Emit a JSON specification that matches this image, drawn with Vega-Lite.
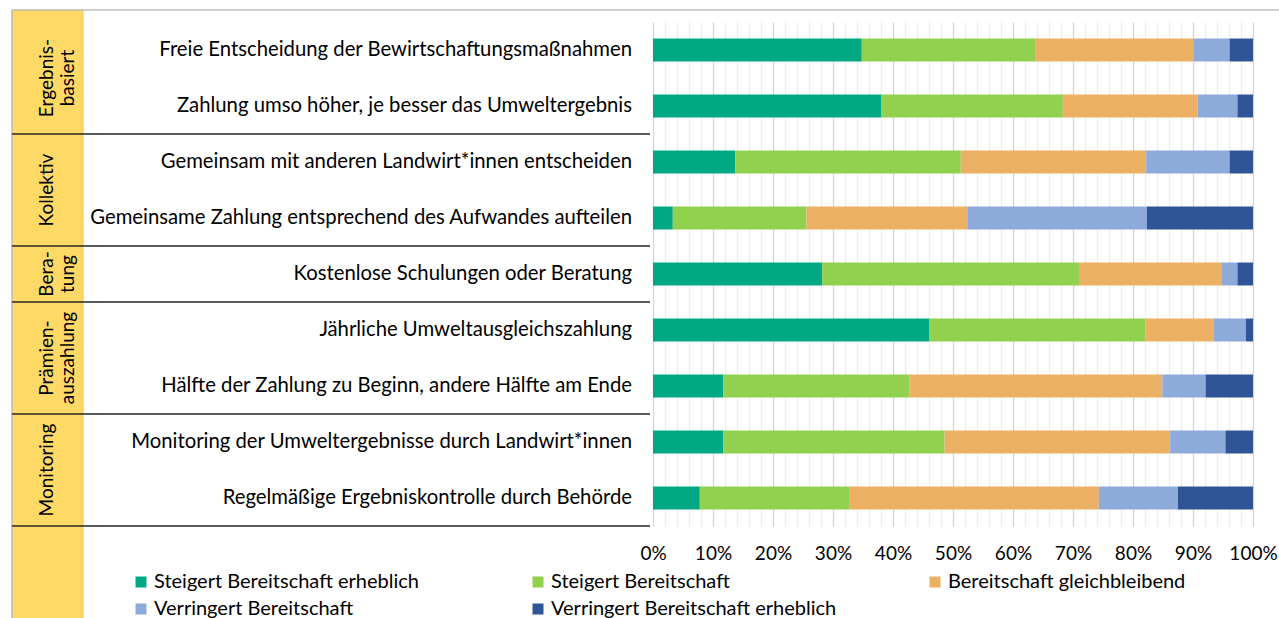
{
  "$schema": "https://vega.github.io/schema/vega-lite/v6.json",
  "width": 1267,
  "height": 504,
  "autosize": {"type": "none"},
  "padding": {"left": 12, "top": 22, "right": 0, "bottom": 92},
  "background": "white",
  "config": {"view": {"stroke": null}, "font": "Lato"},
  "datasets": {
    "items": [
      {"row": 1, "item": "Freie Entscheidung der Bewirtschaftungsmaßnahmen", "group": "Ergebnis-\nbasiert"},
      {"row": 2, "item": "Zahlung umso höher, je besser das Umweltergebnis", "group": "Ergebnis-\nbasiert"},
      {"row": 3, "item": "Gemeinsam mit anderen Landwirt*innen entscheiden", "group": "Kollektiv"},
      {"row": 4, "item": "Gemeinsame Zahlung entsprechend des Aufwandes aufteilen", "group": "Kollektiv"},
      {"row": 5, "item": "Kostenlose Schulungen oder Beratung", "group": "Bera-\ntung"},
      {"row": 6, "item": "Jährliche Umweltausgleichszahlung", "group": "Prämien-\nauszahlung"},
      {"row": 7, "item": "Hälfte der Zahlung zu Beginn, andere Hälfte am Ende", "group": "Prämien-\nauszahlung"},
      {"row": 8, "item": "Monitoring der Umweltergebnisse durch Landwirt*innen", "group": "Monitoring"},
      {"row": 9, "item": "Regelmäßige Ergebniskontrolle durch Behörde", "group": "Monitoring"}
    ],
    "shares": [
      {"row": 1, "k": 1, "cat": "Steigert Bereitschaft erheblich", "v": 34.8},
      {"row": 1, "k": 2, "cat": "Steigert Bereitschaft", "v": 29.0},
      {"row": 1, "k": 3, "cat": "Bereitschaft gleichbleibend", "v": 26.3},
      {"row": 1, "k": 4, "cat": "Verringert Bereitschaft", "v": 6.0},
      {"row": 1, "k": 5, "cat": "Verringert Bereitschaft erheblich", "v": 3.9},
      {"row": 2, "k": 1, "cat": "Steigert Bereitschaft erheblich", "v": 38.0},
      {"row": 2, "k": 2, "cat": "Steigert Bereitschaft", "v": 30.3},
      {"row": 2, "k": 3, "cat": "Bereitschaft gleichbleibend", "v": 22.5},
      {"row": 2, "k": 4, "cat": "Verringert Bereitschaft", "v": 6.6},
      {"row": 2, "k": 5, "cat": "Verringert Bereitschaft erheblich", "v": 2.6},
      {"row": 3, "k": 1, "cat": "Steigert Bereitschaft erheblich", "v": 13.7},
      {"row": 3, "k": 2, "cat": "Steigert Bereitschaft", "v": 37.6},
      {"row": 3, "k": 3, "cat": "Bereitschaft gleichbleibend", "v": 30.9},
      {"row": 3, "k": 4, "cat": "Verringert Bereitschaft", "v": 13.9},
      {"row": 3, "k": 5, "cat": "Verringert Bereitschaft erheblich", "v": 3.9},
      {"row": 4, "k": 1, "cat": "Steigert Bereitschaft erheblich", "v": 3.3},
      {"row": 4, "k": 2, "cat": "Steigert Bereitschaft", "v": 22.3},
      {"row": 4, "k": 3, "cat": "Bereitschaft gleichbleibend", "v": 26.9},
      {"row": 4, "k": 4, "cat": "Verringert Bereitschaft", "v": 29.8},
      {"row": 4, "k": 5, "cat": "Verringert Bereitschaft erheblich", "v": 17.7},
      {"row": 5, "k": 1, "cat": "Steigert Bereitschaft erheblich", "v": 28.2},
      {"row": 5, "k": 2, "cat": "Steigert Bereitschaft", "v": 42.8},
      {"row": 5, "k": 3, "cat": "Bereitschaft gleichbleibend", "v": 23.7},
      {"row": 5, "k": 4, "cat": "Verringert Bereitschaft", "v": 2.7},
      {"row": 5, "k": 5, "cat": "Verringert Bereitschaft erheblich", "v": 2.6},
      {"row": 6, "k": 1, "cat": "Steigert Bereitschaft erheblich", "v": 46.0},
      {"row": 6, "k": 2, "cat": "Steigert Bereitschaft", "v": 36.1},
      {"row": 6, "k": 3, "cat": "Bereitschaft gleichbleibend", "v": 11.3},
      {"row": 6, "k": 4, "cat": "Verringert Bereitschaft", "v": 5.4},
      {"row": 6, "k": 5, "cat": "Verringert Bereitschaft erheblich", "v": 1.2},
      {"row": 7, "k": 1, "cat": "Steigert Bereitschaft erheblich", "v": 11.7},
      {"row": 7, "k": 2, "cat": "Steigert Bereitschaft", "v": 31.0},
      {"row": 7, "k": 3, "cat": "Bereitschaft gleichbleibend", "v": 42.2},
      {"row": 7, "k": 4, "cat": "Verringert Bereitschaft", "v": 7.2},
      {"row": 7, "k": 5, "cat": "Verringert Bereitschaft erheblich", "v": 7.9},
      {"row": 8, "k": 1, "cat": "Steigert Bereitschaft erheblich", "v": 11.7},
      {"row": 8, "k": 2, "cat": "Steigert Bereitschaft", "v": 36.9},
      {"row": 8, "k": 3, "cat": "Bereitschaft gleichbleibend", "v": 37.6},
      {"row": 8, "k": 4, "cat": "Verringert Bereitschaft", "v": 9.2},
      {"row": 8, "k": 5, "cat": "Verringert Bereitschaft erheblich", "v": 4.6},
      {"row": 9, "k": 1, "cat": "Steigert Bereitschaft erheblich", "v": 7.8},
      {"row": 9, "k": 2, "cat": "Steigert Bereitschaft", "v": 25.0},
      {"row": 9, "k": 3, "cat": "Bereitschaft gleichbleibend", "v": 41.5},
      {"row": 9, "k": 4, "cat": "Verringert Bereitschaft", "v": 13.2},
      {"row": 9, "k": 5, "cat": "Verringert Bereitschaft erheblich", "v": 12.5}
    ]
  },
  "layer": [
    {
      "data": {"values": [{}]},
      "mark": {"type": "rect", "fill": "#FFD966", "stroke": "#F2C14E", "strokeWidth": 1},
      "encoding": {
        "x": {"datum": -106.83, "type": "quantitative", "scale": {"domain": [-106.8333, 104.3333], "nice": false, "zero": false, "padding": 0}, "axis": {"values": [0,2,4,6,8,10,12,14,16,18,20,22,24,26,28,30,32,34,36,38,40,42,44,46,48,50,52,54,56,58,60,62,64,66,68,70,72,74,76,78,80,82,84,86,88,90,92,94,96,98,100], "labelExpr": "datum.value % 10 === 0 ? datum.value + '%' : ''", "grid": true, "gridColor": {"condition": {"test": "datum.value % 10 === 0", "value": "#D4D4D4"}, "value": "#EDEDED"}, "gridWidth": 1.3, "domain": false, "ticks": false, "labelFontSize": 19, "labelFont": "Lato", "labelColor": "#000000", "labelPadding": 18, "labelOverlap": false, "labelFlush": false, "title": null}},
        "x2": {"datum": -95},
        "y": {"datum": 0.2857, "type": "quantitative", "scale": {"domain": [0.5, 9.5], "reverse": true, "nice": false, "zero": false, "padding": 0}, "axis": null},
        "y2": {"datum": 11.2}
      }
    },
    {
      "data": {"values": [{}]},
      "mark": {"type": "rule", "color": "#BFBFBF", "strokeWidth": 1.5},
      "encoding": {
        "x": {"datum": -106.83, "type": "quantitative", "scale": {"domain": [-106.8333, 104.3333], "nice": false, "zero": false, "padding": 0}, "axis": {"values": [0,2,4,6,8,10,12,14,16,18,20,22,24,26,28,30,32,34,36,38,40,42,44,46,48,50,52,54,56,58,60,62,64,66,68,70,72,74,76,78,80,82,84,86,88,90,92,94,96,98,100], "labelExpr": "datum.value % 10 === 0 ? datum.value + '%' : ''", "grid": true, "gridColor": {"condition": {"test": "datum.value % 10 === 0", "value": "#D4D4D4"}, "value": "#EDEDED"}, "gridWidth": 1.3, "domain": false, "ticks": false, "labelFontSize": 19, "labelFont": "Lato", "labelColor": "#000000", "labelPadding": 18, "labelOverlap": false, "labelFlush": false, "title": null}},
        "x2": {"datum": 104.33},
        "y": {"datum": 0.2857, "type": "quantitative", "scale": {"domain": [0.5, 9.5], "reverse": true, "nice": false, "zero": false, "padding": 0}, "axis": null}
      }
    },
    {
      "data": {"values": [{}]},
      "mark": {"type": "rule", "color": "#BFBFBF", "strokeWidth": 1.5},
      "encoding": {
        "x": {"datum": -106.83, "type": "quantitative", "scale": {"domain": [-106.8333, 104.3333], "nice": false, "zero": false, "padding": 0}, "axis": {"values": [0,2,4,6,8,10,12,14,16,18,20,22,24,26,28,30,32,34,36,38,40,42,44,46,48,50,52,54,56,58,60,62,64,66,68,70,72,74,76,78,80,82,84,86,88,90,92,94,96,98,100], "labelExpr": "datum.value % 10 === 0 ? datum.value + '%' : ''", "grid": true, "gridColor": {"condition": {"test": "datum.value % 10 === 0", "value": "#D4D4D4"}, "value": "#EDEDED"}, "gridWidth": 1.3, "domain": false, "ticks": false, "labelFontSize": 19, "labelFont": "Lato", "labelColor": "#000000", "labelPadding": 18, "labelOverlap": false, "labelFlush": false, "title": null}},
        "y": {"datum": 0.2857, "type": "quantitative", "scale": {"domain": [0.5, 9.5], "reverse": true, "nice": false, "zero": false, "padding": 0}, "axis": null},
        "y2": {"datum": 11.2}
      }
    },
    {
      "data": {"name": "items"},
      "mark": {"type": "rule", "color": "#262626", "strokeWidth": 1.3, "yOffset": 28},
      "encoding": {
        "x": {"datum": -106.83, "type": "quantitative", "scale": {"domain": [-106.8333, 104.3333], "nice": false, "zero": false, "padding": 0}, "axis": {"values": [0,2,4,6,8,10,12,14,16,18,20,22,24,26,28,30,32,34,36,38,40,42,44,46,48,50,52,54,56,58,60,62,64,66,68,70,72,74,76,78,80,82,84,86,88,90,92,94,96,98,100], "labelExpr": "datum.value % 10 === 0 ? datum.value + '%' : ''", "grid": true, "gridColor": {"condition": {"test": "datum.value % 10 === 0", "value": "#D4D4D4"}, "value": "#EDEDED"}, "gridWidth": 1.3, "domain": false, "ticks": false, "labelFontSize": 19, "labelFont": "Lato", "labelColor": "#000000", "labelPadding": 18, "labelOverlap": false, "labelFlush": false, "title": null}},
        "x2": {"datum": -0.5},
        "y": {"aggregate": "max", "field": "row", "type": "quantitative", "scale": {"domain": [0.5, 9.5], "reverse": true, "nice": false, "zero": false, "padding": 0}, "axis": null},
        "detail": {"field": "group"}
      }
    },
    {
      "data": {"name": "items"},
      "mark": {"type": "text", "angle": 270, "align": "center", "baseline": "middle", "fontSize": 19, "lineHeight": 21, "lineBreak": "\n", "color": "#000000"},
      "encoding": {
        "x": {"datum": -101, "type": "quantitative", "scale": {"domain": [-106.8333, 104.3333], "nice": false, "zero": false, "padding": 0}, "axis": {"values": [0,2,4,6,8,10,12,14,16,18,20,22,24,26,28,30,32,34,36,38,40,42,44,46,48,50,52,54,56,58,60,62,64,66,68,70,72,74,76,78,80,82,84,86,88,90,92,94,96,98,100], "labelExpr": "datum.value % 10 === 0 ? datum.value + '%' : ''", "grid": true, "gridColor": {"condition": {"test": "datum.value % 10 === 0", "value": "#D4D4D4"}, "value": "#EDEDED"}, "gridWidth": 1.3, "domain": false, "ticks": false, "labelFontSize": 19, "labelFont": "Lato", "labelColor": "#000000", "labelPadding": 18, "labelOverlap": false, "labelFlush": false, "title": null}},
        "y": {"aggregate": "mean", "field": "row", "type": "quantitative", "scale": {"domain": [0.5, 9.5], "reverse": true, "nice": false, "zero": false, "padding": 0}, "axis": null},
        "text": {"field": "group"}
      }
    },
    {
      "data": {"name": "items"},
      "mark": {"type": "text", "align": "right", "baseline": "middle", "fontSize": 20.3, "color": "#000000"},
      "encoding": {
        "x": {"datum": -3.5, "type": "quantitative", "scale": {"domain": [-106.8333, 104.3333], "nice": false, "zero": false, "padding": 0}, "axis": {"values": [0,2,4,6,8,10,12,14,16,18,20,22,24,26,28,30,32,34,36,38,40,42,44,46,48,50,52,54,56,58,60,62,64,66,68,70,72,74,76,78,80,82,84,86,88,90,92,94,96,98,100], "labelExpr": "datum.value % 10 === 0 ? datum.value + '%' : ''", "grid": true, "gridColor": {"condition": {"test": "datum.value % 10 === 0", "value": "#D4D4D4"}, "value": "#EDEDED"}, "gridWidth": 1.3, "domain": false, "ticks": false, "labelFontSize": 19, "labelFont": "Lato", "labelColor": "#000000", "labelPadding": 18, "labelOverlap": false, "labelFlush": false, "title": null}},
        "y": {"field": "row", "type": "quantitative", "scale": {"domain": [0.5, 9.5], "reverse": true, "nice": false, "zero": false, "padding": 0}, "axis": null},
        "text": {"field": "item"}
      }
    },
    {
      "data": {"name": "shares"},
      "transform": [
        {"stack": "v", "groupby": ["row"], "sort": [{"field": "k", "order": "ascending"}], "as": ["x0", "x1"]}
      ],
      "mark": {"type": "bar", "orient": "horizontal", "size": 23},
      "encoding": {
        "x": {"field": "x0", "type": "quantitative", "scale": {"domain": [-106.8333, 104.3333], "nice": false, "zero": false, "padding": 0}, "axis": {"values": [0,2,4,6,8,10,12,14,16,18,20,22,24,26,28,30,32,34,36,38,40,42,44,46,48,50,52,54,56,58,60,62,64,66,68,70,72,74,76,78,80,82,84,86,88,90,92,94,96,98,100], "labelExpr": "datum.value % 10 === 0 ? datum.value + '%' : ''", "grid": true, "gridColor": {"condition": {"test": "datum.value % 10 === 0", "value": "#D4D4D4"}, "value": "#EDEDED"}, "gridWidth": 1.3, "domain": false, "ticks": false, "labelFontSize": 19, "labelFont": "Lato", "labelColor": "#000000", "labelPadding": 18, "labelOverlap": false, "labelFlush": false, "title": null}},
        "x2": {"field": "x1"},
        "y": {"field": "row", "type": "quantitative", "scale": {"domain": [0.5, 9.5], "reverse": true, "nice": false, "zero": false, "padding": 0}, "axis": null},
        "color": {
          "field": "cat", "type": "nominal",
          "scale": {
            "domain": ["Steigert Bereitschaft erheblich", "Steigert Bereitschaft", "Bereitschaft gleichbleibend", "Verringert Bereitschaft", "Verringert Bereitschaft erheblich"],
            "range": ["#00A984", "#92D050", "#ECB065", "#8EAADB", "#2F5597"]
          },
          "legend": {
            "title": null,
            "orient": "none",
            "legendX": 119,
            "legendY": 550,
            "direction": "horizontal",
            "columns": 3,
            "gridAlign": "all",
            "columnPadding": 88,
            "rowPadding": 7,
            "symbolType": "square",
            "symbolSize": 121,
            "symbolStrokeWidth": 0,
            "labelFontSize": 20,
            "labelFont": "Lato",
            "labelColor": "#000000",
            "labelOffset": 3,
            "labelLimit": 400,
            "padding": 0
          }
        }
      }
    }
  ]
}
